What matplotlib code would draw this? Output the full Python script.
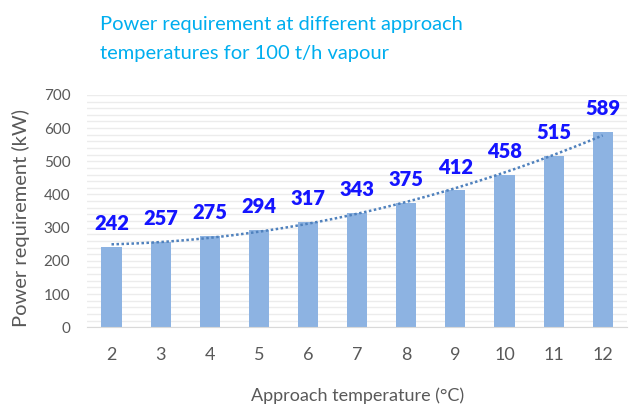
import matplotlib.pyplot as plt
import numpy as np

# approach temperature (°C) and power requirement (kW)
temps = [2, 3, 4, 5, 6, 7, 8, 9, 10, 11, 12]
power = [242, 257, 275, 294, 317, 343, 375, 412, 458, 515, 589]

TITLE = "Power requirement at different approach\ntemperatures for 100 t/h vapour"
BAR_COLOR = "#8db3e2"
LABEL_COLOR = "#1414ff"
TREND_COLOR = "#4f81bd"
GREY = "#595959"

plt.rcParams["font.family"] = ["Lato", "DejaVu Sans"]

fig = plt.figure(figsize=(6.44, 4.09), dpi=100)
ax = fig.add_axes([0.135, 0.200, 0.839, 0.568])

x = np.array(temps, dtype=float)
y = np.array(power, dtype=float)

ax.bar(x, y, width=0.41, color=BAR_COLOR, zorder=2)

# polynomial trendline fitted to the bars
coef = np.polyfit(x, y, 2)
xt = np.linspace(x[0], x[-1], 100)
ax.plot(xt, np.polyval(coef, xt), linestyle=(0, (1, 1)), color=TREND_COLOR,
        linewidth=1.8, zorder=3)

for xi, yi in zip(temps, power):
    ax.annotate(str(yi), (xi, yi), xytext=(0, 10), textcoords="offset points",
                ha="center", va="bottom", fontsize=14.5, fontweight="heavy",
                color=LABEL_COLOR, zorder=4)

ax.set_xlim(1.5, 12.5)
ax.set_ylim(0, 700)
ax.set_xticks(temps)
ax.set_yticks(np.arange(0, 701, 100))
ax.set_yticks(np.arange(0, 701, 20), minor=True)
ax.grid(True, axis="y", which="both", color="#ececec", linewidth=1.0, zorder=0)
ax.set_axisbelow(True)

for s in ["top", "right", "left"]:
    ax.spines[s].set_visible(False)
ax.spines["bottom"].set_color("#d9d9d9")
ax.tick_params(axis="both", which="both", length=0)
ax.tick_params(axis="x", labelsize=13, labelcolor=GREY, pad=14)
ax.tick_params(axis="y", labelsize=11, labelcolor=GREY, pad=12)

ax.set_xlabel("Approach temperature (°C)", fontsize=13, color=GREY, labelpad=18)
ax.set_ylabel("Power requirement (kW)", fontsize=14.5, color=GREY)
ax.yaxis.set_label_coords(-0.105, 0.47)

fig.text(0.155, 0.960, TITLE, ha="left", va="top", fontsize=14.5,
         color="#00aeef", linespacing=1.85)

fig.savefig("out.png", dpi=100)
